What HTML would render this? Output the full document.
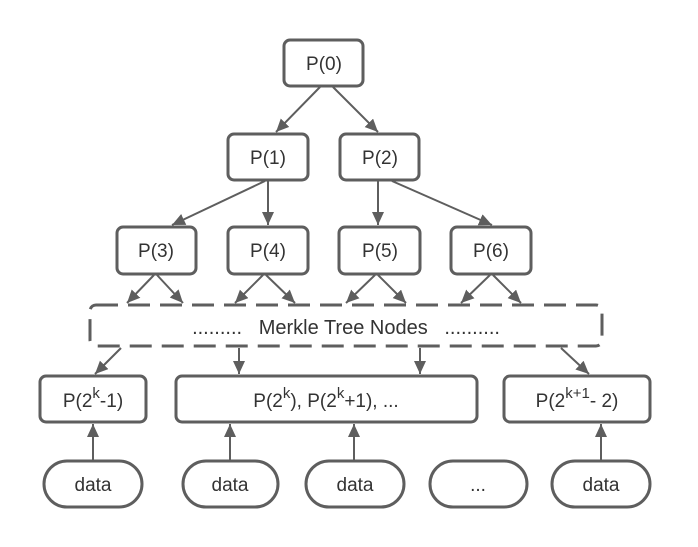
<!DOCTYPE html>
<html><head><style>body{margin:0;background:#fff}svg{display:block}</style></head><body>
<svg width="698" height="547" viewBox="0 0 698 547" xmlns="http://www.w3.org/2000/svg">
<defs><marker id="b" markerWidth="14" markerHeight="14" refX="13" refY="6" orient="auto" markerUnits="userSpaceOnUse"><path d="M0,0 L13,6 L0,12 z" fill="#5e5e5e"/></marker></defs>
<g fill="none" stroke="#5e5e5e" stroke-width="3">
<rect x="284" y="40" width="79" height="46" rx="6"/>
<rect x="228" y="134" width="80" height="46" rx="6"/>
<rect x="340" y="134" width="79" height="46" rx="6"/>
<rect x="117" y="227" width="79" height="47" rx="6"/>
<rect x="228" y="227" width="80" height="47" rx="6"/>
<rect x="339" y="227" width="81" height="47" rx="6"/>
<rect x="451" y="227" width="80" height="47" rx="6"/>
<rect x="90" y="305" width="512" height="41" rx="6" stroke-dasharray="22,10"/>
<rect x="40" y="376" width="106" height="46" rx="6"/>
<rect x="176" y="376" width="301" height="46" rx="6"/>
<rect x="504" y="376" width="146" height="46" rx="6"/>
<rect x="44" y="461" width="98" height="46" rx="23"/>
<rect x="183" y="461" width="95" height="46" rx="23"/>
<rect x="306" y="461" width="98" height="46" rx="23"/>
<rect x="430" y="461" width="97" height="46" rx="23"/>
<rect x="552" y="461" width="98" height="46" rx="23"/>
</g>
<g stroke="#5e5e5e" stroke-width="2" fill="none" marker-end="url(#b)">
<path d="M320,87 L276,132"/><path d="M333,87 L378,132"/>
<path d="M265,181 L172,225"/><path d="M268,181 L268,225"/>
<path d="M378,181 L378,225"/><path d="M392,181 L492,225"/>
<path d="M154,275 L127,303"/><path d="M157,275 L183,303"/>
<path d="M263,275 L235,303"/><path d="M266,275 L295,303"/>
<path d="M375,275 L346,303"/><path d="M378,275 L406,303"/>
<path d="M490,275 L461,303"/><path d="M493,275 L521,303"/>
<path d="M121,348 L95,374"/><path d="M239,348 L239,374"/><path d="M420,348 L420,374"/><path d="M561,348 L589,374"/>
<path d="M93,460 L93,424"/><path d="M230,460 L230,424"/><path d="M354,460 L354,424"/><path d="M601,460 L601,424"/>
</g>
<g font-family="Liberation Sans, sans-serif" font-size="19" fill="#333" text-anchor="middle">
<text x="324" y="70">P(0)</text>
<text x="268" y="164">P(1)</text>
<text x="380" y="164">P(2)</text>
<text x="156" y="257">P(3)</text>
<text x="268" y="257">P(4)</text>
<text x="380" y="257">P(5)</text>
<text x="491" y="257">P(6)</text>
<text x="346" y="334" font-size="20" xml:space="preserve">.........   Merkle Tree Nodes   ..........</text>
<text x="93" y="407">P(2<tspan font-size="15" dy="-9">k</tspan><tspan dy="9">-1)</tspan></text>
<text x="326" y="407">P(2<tspan font-size="15" dy="-9">k</tspan><tspan dy="9">), P(2</tspan><tspan font-size="15" dy="-9">k</tspan><tspan dy="9">+1), ...</tspan></text>
<text x="577" y="407">P(2<tspan font-size="15" dy="-9">k+1</tspan><tspan dy="9">- 2)</tspan></text>
<text x="93" y="491">data</text>
<text x="230" y="491">data</text>
<text x="355" y="491">data</text>
<text x="478" y="491">...</text>
<text x="601" y="491">data</text>
</g>
</svg>
</body></html>
